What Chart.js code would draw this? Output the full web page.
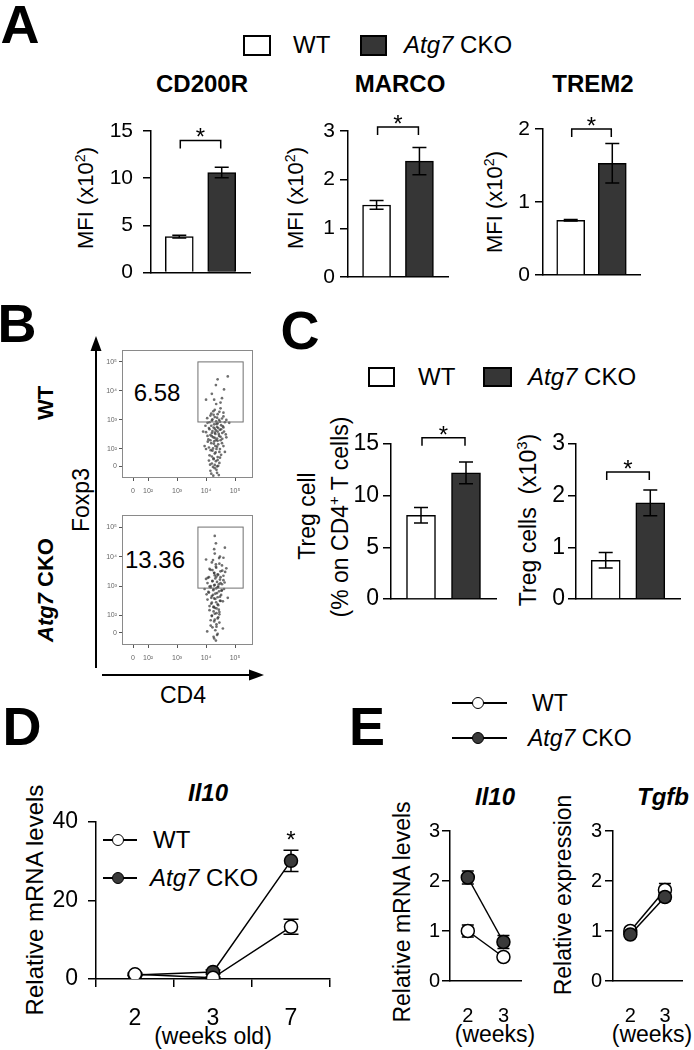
<!DOCTYPE html>
<html>
<head>
<meta charset="utf-8">
<script src="https://cdn.jsdelivr.net/npm/chart.js@4"></script>
<style>
body { margin: 0; background: #fff; }
#fig { position: relative; width: 694px; height: 1050px; overflow: hidden; background: #fff;
       font-family: "Liberation Sans", Arial, sans-serif; color: #000; }
canvas { position: absolute; }
.t { position: absolute; white-space: nowrap; line-height: 1; transform: translate(-50%, -50%); }
.l { position: absolute; white-space: nowrap; line-height: 1; transform: translateY(-50%); }
.rot { transform: translate(-50%, -50%) rotate(-90deg); }
.ttl { font-weight: bold; font-size: 24px; }
.letter { font-weight: bold; font-size: 54px; }
.box { position: absolute; border: 2px solid #000; }
.ln { position: absolute; height: 1.5px; background: #000; }
.mk { position: absolute; width: 10px; height: 10px; border: 1.5px solid #000; border-radius: 50%;
      transform: translate(-50%, -50%); }
sup { font-size: 65%; vertical-align: 0.55em; line-height: 0; }
</style>
</head>
<body>
<div id="fig">
  <!-- panel letters -->
  <div class="t letter" style="left:20px;top:24px">A</div>
  <div class="t letter" style="left:17px;top:323px">B</div>
  <div class="t letter" style="left:300px;top:330px">C</div>
  <div class="t letter" style="left:22px;top:726px">D</div>
  <div class="t letter" style="left:367px;top:726px">E</div>

  <!-- A legend, titles, axis titles -->
  <div class="box" style="left:243px;top:35px;width:24px;height:17px;background:#fff"></div>
  <div class="l" style="left:293px;top:45px;font-size:24px">WT</div>
  <div class="box" style="left:360px;top:35px;width:23px;height:17px;background:#363636"></div>
  <div class="l" style="left:404px;top:45px;font-size:24px"><i>Atg7</i> CKO</div>
  <div class="t ttl" style="left:202px;top:84px">CD200R</div>
  <div class="t ttl" style="left:400px;top:84px">MARCO</div>
  <div class="t ttl" style="left:593px;top:84px">TREM2</div>
  <div class="t rot" style="left:86px;top:198px;font-size:22px">MFI (x10<sup>2</sup>)</div>
  <div class="t rot" style="left:296px;top:198px;font-size:22px">MFI (x10<sup>2</sup>)</div>
  <div class="t rot" style="left:495px;top:202px;font-size:22px">MFI (x10<sup>2</sup>)</div>

  <!-- B labels -->
  <div class="t rot" style="left:46px;top:403px;font-size:22px;font-weight:bold">WT</div>
  <div class="t rot" style="left:46px;top:590px;font-size:22px;font-weight:bold"><i>Atg7</i> CKO</div>
  <div class="t rot" style="left:81px;top:500px;font-size:23px">Foxp3</div>
  <div class="t" style="left:183px;top:695px;font-size:23px">CD4</div>
  <div class="t" style="left:157px;top:393px;font-size:24px">6.58</div>
  <div class="t" style="left:155px;top:560px;font-size:24px">13.36</div>
  <svg style="position:absolute;left:0;top:0" width="694" height="1050">
    <line x1="96" y1="668" x2="96" y2="346" stroke="#000" stroke-width="2"/>
    <polygon points="96,336 90.5,351 101.5,351" fill="#000"/>
    <line x1="102" y1="675" x2="254" y2="675" stroke="#000" stroke-width="2"/>
    <polygon points="264,675 249,669.5 249,680.5" fill="#000"/>
  </svg>

  <!-- C legend and axis titles -->
  <div class="box" style="left:368px;top:367px;width:23px;height:16px;background:#fff"></div>
  <div class="l" style="left:418px;top:377px;font-size:24px">WT</div>
  <div class="box" style="left:483px;top:367px;width:25px;height:16px;background:#363636"></div>
  <div class="l" style="left:528px;top:377px;font-size:24px"><i>Atg7</i> CKO</div>
  <div class="t rot" style="left:307px;top:516px;font-size:23px">Treg cell</div>
  <div class="t rot" style="left:340px;top:517px;font-size:23px">(% on CD4<sup>+</sup> T cells)</div>
  <div class="t rot" style="left:528px;top:520px;font-size:23px">Treg cells&nbsp; (x10<sup>3</sup>)</div>

  <!-- D title, legend, axis titles -->
  <div class="t" style="left:208px;top:793px;font-size:24px;font-weight:bold;font-style:italic">Il10</div>
  <div class="ln" style="left:103px;top:839px;width:34px"></div>
  <div class="mk" style="left:118px;top:840px;background:#fff"></div>
  <div class="l" style="left:153px;top:840px;font-size:24px">WT</div>
  <div class="ln" style="left:103px;top:877px;width:34px"></div>
  <div class="mk" style="left:118px;top:878px;background:#3a3a3a"></div>
  <div class="l" style="left:150px;top:878px;font-size:24px"><i>Atg7</i> CKO</div>
  <div class="t rot" style="left:35px;top:900px;font-size:24px">Relative mRNA levels</div>
  <div class="t" style="left:213px;top:1036px;font-size:23px">(weeks old)</div>

  <!-- E legend, titles, axis titles -->
  <div class="ln" style="left:452px;top:702px;width:55px"></div>
  <div class="mk" style="left:478px;top:703px;background:#fff"></div>
  <div class="l" style="left:532px;top:703px;font-size:23px">WT</div>
  <div class="ln" style="left:452px;top:737px;width:55px"></div>
  <div class="mk" style="left:478px;top:738px;background:#3a3a3a"></div>
  <div class="l" style="left:528px;top:738px;font-size:23px"><i>Atg7</i> CKO</div>
  <div class="t" style="left:495px;top:797px;font-size:24px;font-weight:bold;font-style:italic">Il10</div>
  <div class="t" style="left:663px;top:797px;font-size:24px;font-weight:bold;font-style:italic">Tgfb</div>
  <div class="t rot" style="left:402px;top:912px;font-size:23px">Relative mRNA levels</div>
  <div class="t rot" style="left:563px;top:895px;font-size:23px">Relative expression</div>
  <div class="t" style="left:495px;top:1034px;font-size:23px">(weeks)</div>
  <div class="t" style="left:652px;top:1034px;font-size:23px">(weeks)</div>

  <canvas id="cd200r"></canvas>
  <canvas id="marco"></canvas>
  <canvas id="trem2"></canvas>
  <canvas id="facsWt"></canvas>
  <canvas id="facsCko"></canvas>
  <canvas id="tregPct"></canvas>
  <canvas id="tregNum"></canvas>
  <canvas id="il10Time"></canvas>
  <canvas id="il10Early"></canvas>
  <canvas id="tgfbEarly"></canvas>
</div>

<script>
// Groups (bar order: WT, Atg7 CKO)
const groups = ['WT', 'Atg7 CKO'];

// Panel A - MFI (x10^2)
const cd200rMean = [3.8, 10.6];
const cd200rSem = [0.15, 0.55];
const marcoMean = [1.48, 2.38];
const marcoSem = [0.09, 0.28];
const trem2Mean = [0.75, 1.53];
const trem2Sem = [0.01, 0.27];
const bracketA = [14.0, 3.08, 2.0];

// Panel C - Treg cells
const tregPctMean = [8.1, 12.2];
const tregPctSem = [0.75, 1.05];
const tregNumMean = [0.75, 1.86];
const tregNumSem = [0.15, 0.25];
const bracketC = [15.6, 2.46];

// Panel D - Il10 over time
const dWeeks = ['2', '3', '7'];
const dWtMean = [1.2, 0.3, 13.3];
const dWtSem = [0.3, 0.2, 1.9];
const dCkoMean = [1.0, 1.8, 30.1];
const dCkoSem = [0.2, 0.5, 2.7];
const dStars = [null, null, 37];

// Panel E - early weeks
const eWeeks = ['2', '3'];
const il10WtMean = [1.0, 0.48];
const il10WtSem = [0.12, 0.05];
const il10CkoMean = [2.07, 0.78];
const il10CkoSem = [0.13, 0.13];
const tgfbWtMean = [1.0, 1.82];
const tgfbWtSem = [0.07, 0.13];
const tgfbCkoMean = [0.93, 1.68];
const tgfbCkoSem = [0.05, 0.08];

// Panel B - flow cytometry, axes in display decades
const facsTickLabels = ['0', '10²', '10³', '10⁴', '10⁵'];
const cd4TickPos = [1.48, 2, 3, 4, 5];
const foxp3TickPos = [1.41, 2, 3, 4, 5];
const facsGate = [3.72, 5.28, 2.93, 5.0];
const wtCd4 = [4.35,4.5,4.25,4.6,4.4,4.15,4.3,4.55,4.45,4.2,4.35,4.65,4.05,4.4,4.28,4.52,4.18,4.38,4.6,4.1,
  4.3,4.48,4.22,4.4,4.0,4.56,4.32,4.15,4.45,4.25,4.38,4.08,4.5,4.28,4.18,4.42,4.32,4.1,4.36,4.22,
  4.46,4.3,4.12,4.4,4.26,4.34,4.2,4.42,4.3,4.15,4.38,4.25,4.4,4.75,4.2,4.55,4.0,3.9,4.8,4.7,3.95,4.65,
  4.22,4.48,4.36,4.12,4.58,4.26,4.44,4.34,4.05,4.62,4.2,4.5,4.3,4.15,4.4,4.27,4.55,4.06,4.38,4.24,
  4.48,4.16,4.33,4.52,4.2,4.4,4.1,4.3,4.46,4.24,4.36,4.18,4.44,4.3,4.46,4.18,4.6,4.04,4.38,4.26,
  4.7,4.52,4.68,3.98,4.12,4.42,4.3,4.56,4.2,4.34,4.0,4.6,4.26,4.48,4.14,4.38,4.5,4.28,4.62,4.34];
const wtFoxp3 = [3.55,3.4,3.3,3.25,3.2,3.15,3.1,3.05,3.0,2.98,2.95,2.92,2.9,2.88,2.85,2.82,2.8,2.76,2.74,2.72,
  2.7,2.66,2.62,2.6,2.58,2.55,2.52,2.48,2.45,2.4,2.36,2.33,2.3,2.26,2.2,2.16,2.1,2.05,2.0,1.94,
  1.9,1.84,1.78,1.72,1.65,1.58,1.5,1.42,1.34,1.25,1.18,1.08,4.4,4.5,3.9,3.75,3.7,2.6,2.9,2.4,2.1,1.9,
  3.02,2.94,2.86,2.68,2.78,2.74,2.52,2.64,2.45,2.6,2.55,2.42,2.38,2.3,2.28,2.18,2.2,2.25,2.08,2.02,
  2.0,1.96,1.88,1.8,1.74,1.62,1.6,1.45,1.52,1.38,1.28,1.15,1.1,3.35,3.28,3.22,3.12,3.06,3.08,3.18,
  3.0,2.68,2.5,2.8,2.92,2.72,2.56,2.35,2.44,2.3,2.0,2.1,1.68,1.7,1.46,1.4,3.6,3.7,4.05,4.2];
const ckoCd4 = [4.3,4.45,4.2,4.55,4.35,4.15,4.5,4.28,4.4,4.6,4.1,4.32,4.48,4.22,4.38,4.05,4.55,4.28,4.42,4.16,
  4.35,4.62,4.25,4.45,4.1,4.32,4.52,4.2,4.4,4.28,4.05,4.48,4.35,4.18,4.42,4.26,4.36,4.12,4.46,4.3,
  4.2,4.4,4.28,4.36,4.22,4.32,4.4,4.26,4.34,4.3,4.0,4.7,3.95,4.75,4.65,
  4.24,4.46,4.34,4.12,4.56,4.28,4.42,4.36,4.06,4.6,4.22,4.5,4.3,4.16,4.4,4.26,4.54,4.08,4.38,4.24,
  4.48,4.18,4.32,4.5,4.2,4.4,4.12,4.3,4.44,4.26,4.36,4.2,4.42,4.3,4.46,4.16,4.58,4.04,4.38,4.28,
  4.66,4.5,4.64,4.0,4.12,4.44,4.3,4.54,4.22,4.34,4.02,4.58,4.26,4.46,4.16,4.36,4.48,4.28,4.6,4.34];
const ckoFoxp3 = [4.1,3.95,3.8,3.7,3.62,3.55,3.5,3.45,3.4,3.35,3.3,3.26,3.22,3.18,3.14,3.1,3.06,3.02,2.98,2.95,
  2.92,2.9,2.86,2.82,2.78,2.74,2.7,2.66,2.62,2.58,2.54,2.5,2.45,2.4,2.35,2.3,2.24,2.18,2.12,2.06,
  1.98,1.9,1.8,1.7,1.6,1.5,1.38,1.28,1.15,4.7,3.9,3.6,2.9,2.6,4.3,
  3.88,3.76,3.66,3.58,3.52,3.44,3.38,3.32,3.28,3.2,3.16,3.1,3.04,3.0,2.96,2.9,2.84,2.8,2.76,2.7,
  2.64,2.6,2.56,2.5,2.44,2.38,2.32,2.26,2.2,2.14,2.08,2.0,1.94,1.86,1.76,1.66,1.56,1.46,1.34,1.22,
  3.48,3.3,3.12,3.24,2.98,3.06,3.36,2.86,3.54,3.74,2.72,2.48,2.28,2.04,1.84,1.62,4.0,4.25,3.96,4.45];

const FONT = '"Liberation Sans", Arial, sans-serif';
Chart.defaults.font.family = FONT;
Chart.defaults.color = '#000';
Chart.defaults.animation = false;
Chart.defaults.responsive = false;
Chart.defaults.plugins.legend.display = false;
Chart.defaults.plugins.tooltip.enabled = false;

// error bars (behind markers for lines, on top for bars)
function drawErrors(chart, cap) {
    const ctx = chart.ctx, ys = chart.scales.y;
    ctx.save();
    ctx.strokeStyle = '#000';
    ctx.lineWidth = 1.5;
    chart.data.datasets.forEach((ds, i) => {
        if (!ds.errors) return;
        chart.getDatasetMeta(i).data.forEach((el, j) => {
            const raw = ds.data[j];
            const v = typeof raw === 'object' ? raw.y : raw;
            const e = ds.errors[j];
            const top = ys.getPixelForValue(v + e), bot = ys.getPixelForValue(v - e);
            ctx.beginPath();
            ctx.moveTo(el.x, top); ctx.lineTo(el.x, bot);
            ctx.moveTo(el.x - cap, top); ctx.lineTo(el.x + cap, top);
            ctx.moveTo(el.x - cap, bot); ctx.lineTo(el.x + cap, bot);
            ctx.stroke();
        });
    });
    ctx.restore();
}
const errorBars = {
    id: 'errorBars',
    beforeDatasetsDraw(chart, args, opts) { if (!opts.front) drawErrors(chart, opts.cap || 7); },
    afterDatasetsDraw(chart, args, opts) { if (opts.front) drawErrors(chart, opts.cap || 7); }
};

// significance bracket and stars
const sigMarks = {
    id: 'sigMarks',
    afterDraw(chart, args, opts) {
        const ctx = chart.ctx, ys = chart.scales.y;
        ctx.save();
        ctx.strokeStyle = '#000';
        ctx.fillStyle = '#000';
        ctx.lineWidth = 1.5;
        ctx.font = '24px ' + FONT;
        ctx.textAlign = 'center';
        ctx.textBaseline = 'alphabetic';
        if (opts.bracket != null) {
            const bars = chart.getDatasetMeta(0).data;
            const x0 = bars[0].x + 1, x1 = bars[1].x - 1;
            const py = ys.getPixelForValue(opts.bracket);
            ctx.beginPath();
            ctx.moveTo(x0, py + 8); ctx.lineTo(x0, py); ctx.lineTo(x1, py); ctx.lineTo(x1, py + 8);
            ctx.stroke();
            ctx.fillText('*', (x0 + x1) / 2, py + 5);
        }
        (opts.stars || []).forEach((v, i) => {
            if (v == null) return;
            const x = chart.getDatasetMeta(0).data[i].x;
            ctx.fillText('*', x, ys.getPixelForValue(v) + 14);
        });
        ctx.restore();
    }
};

// frame + gate of the dot plots
const facsFrame = {
    id: 'facsFrame',
    afterDatasetsDraw(chart, args, opts) {
        const {ctx, chartArea: a, scales: {x, y}} = chart;
        ctx.save();
        ctx.strokeStyle = '#8a8a8a';
        ctx.lineWidth = 1;
        ctx.strokeRect(a.left + 0.5, a.top + 0.5, a.width - 1, a.height - 1);
        const g = opts.gate;
        const gx0 = x.getPixelForValue(g[0]), gx1 = x.getPixelForValue(g[1]);
        const gy0 = y.getPixelForValue(g[3]), gy1 = y.getPixelForValue(g[2]);
        ctx.strokeStyle = '#707070';
        ctx.strokeRect(gx0, gy0, gx1 - gx0, gy1 - gy0);
        ctx.restore();
    }
};

// put a canvas so that its chart area lands on [l, t, r, b]
function place(id, area, m) {
    const c = document.getElementById(id);
    const w = area[2] - area[0] + m.l + m.r;
    const h = area[3] - area[1] + m.t + m.b;
    c.width = w; c.height = h;
    c.style.left = (area[0] - m.l) + 'px';
    c.style.top = (area[1] - m.t) + 'px';
    c.style.width = w + 'px';
    c.style.height = h + 'px';
    return c;
}

function yAxis(m, max, step, size, pad) {
    return {
        min: 0, max: max,
        ticks: {stepSize: step, font: {size: size}, padding: pad, color: '#000'},
        grid: {drawOnChartArea: false, tickLength: 8, color: '#000', lineWidth: 1.5},
        border: {color: '#000', width: 1.5},
        afterFit: s => { s.width = m.l; }
    };
}

function barChart(id, area, mean, sem, max, step, size, pad, bracket, width) {
    const m = {l: 50, r: 6, t: 30, b: 18};
    const c = place(id, area, m);
    return new Chart(c, {
        type: 'bar',
        data: {
            datasets: [{
                label: groups.join(' / '),
                data: mean.map((v, i) => ({x: i + 1, y: v})),
                errors: sem,
                backgroundColor: ['#ffffff', '#363636'],
                borderColor: '#000',
                borderWidth: 1.5,
                barThickness: width
            }]
        },
        options: {
            layout: {autoPadding: false, padding: {top: m.t, right: m.r, left: 0, bottom: 0}},
            scales: {
                x: {
                    type: 'linear', min: 1 / 3, max: 8 / 3, offset: false,
                    ticks: {display: false},
                    grid: {display: false},
                    border: {color: '#000', width: 1.5},
                    afterFit: s => { s.height = m.b; }
                },
                y: yAxis(m, max, step, size, pad)
            },
            plugins: {
                errorBars: {front: true, cap: 7},
                sigMarks: {bracket: bracket}
            }
        },
        plugins: [errorBars, sigMarks]
    });
}

function lineChart(id, area, m, labels, wt, wtErr, cko, ckoErr, opt) {
    const c = place(id, area, m);
    const marker = (fill, err, vals, order) => ({
        data: vals, errors: err, order: order,
        borderColor: '#000', borderWidth: 1.5,
        pointRadius: 6.5, pointBorderWidth: 1.5,
        pointBorderColor: '#000', pointBackgroundColor: fill
    });
    return new Chart(c, {
        type: 'line',
        data: {
            labels: labels,
            datasets: [
                Object.assign({label: 'WT'}, marker('#ffffff', wtErr, wt, opt.wtOrder)),
                Object.assign({label: 'Atg7 CKO'}, marker('#3a3a3a', ckoErr, cko, opt.ckoOrder))
            ]
        },
        options: {
            layout: {autoPadding: false, padding: {top: m.t, right: m.r, left: 0, bottom: 0}},
            scales: {
                x: {
                    offset: true,
                    grid: opt.xTicks
                        ? {offset: true, drawOnChartArea: false, tickLength: 8, color: '#000', lineWidth: 1.5}
                        : {display: false, drawTicks: false},
                    border: {color: '#000', width: 1.5},
                    ticks: {font: {size: opt.size}, padding: opt.xPad, color: '#000',
                            maxRotation: 0, minRotation: 0, autoSkip: false},
                    afterFit: s => { s.height = m.b; }
                },
                y: yAxis(m, opt.max, opt.step, opt.size, opt.yPad)
            },
            plugins: {
                errorBars: {front: false, cap: opt.cap},
                sigMarks: {stars: opt.stars}
            }
        },
        plugins: [errorBars, sigMarks]
    });
}

function facsChart(id, area, cd4, foxp3) {
    const m = {l: 22, r: 8, t: 8, b: 22};
    const c = place(id, area, m);
    const tickStyle = {font: {size: 7}, color: '#666', autoSkip: false, maxRotation: 0,
                       callback: (v, i) => facsTickLabels[i]};
    return new Chart(c, {
        type: 'scatter',
        data: {
            datasets: [{
                label: 'CD4 vs Foxp3',
                data: cd4.map((v, i) => ({x: v, y: foxp3[i]})),
                pointRadius: 1.35,
                pointBorderWidth: 0,
                pointBackgroundColor: 'rgba(50,50,50,0.7)'
            }]
        },
        options: {
            layout: {autoPadding: false, padding: {top: m.t, right: m.r, left: 0, bottom: 0}},
            scales: {
                x: {
                    type: 'linear', min: 1.10, max: 5.62,
                    afterBuildTicks: s => { s.ticks = cd4TickPos.map(v => ({value: v})); },
                    ticks: Object.assign({padding: 6}, tickStyle),
                    grid: {drawOnChartArea: false, tickLength: 3, color: '#555'},
                    border: {display: false},
                    afterFit: s => { s.height = m.b; }
                },
                y: {
                    type: 'linear', min: 1.0, max: 5.41,
                    afterBuildTicks: s => { s.ticks = foxp3TickPos.map(v => ({value: v})); },
                    ticks: Object.assign({padding: 2}, tickStyle),
                    grid: {drawOnChartArea: false, tickLength: 3, color: '#555'},
                    border: {display: false},
                    afterFit: s => { s.width = m.l; }
                }
            },
            plugins: {facsFrame: {gate: facsGate}}
        },
        plugins: [facsFrame]
    });
}

// Panel A
barChart('cd200r', [151, 131, 250, 277], cd200rMean, cd200rSem, 15, 5, 21, 10, bracketA[0], 28);
barChart('marco', [348, 131, 448, 277], marcoMean, marcoSem, 3, 1, 21, 5, bracketA[1], 28);
barChart('trem2', [543, 129, 640, 275], trem2Mean, trem2Sem, 2, 1, 21, 5, bracketA[2], 28);

// Panel B
facsChart('facsWt', [122, 350, 253, 478], wtCd4, wtFoxp3);
facsChart('facsCko', [122, 515, 253, 645], ckoCd4, ckoFoxp3);

// Panel C
barChart('tregPct', [391, 444, 496, 599], tregPctMean, tregPctSem, 15, 5, 23, 4, bracketC[0], 29);
barChart('tregNum', [576, 444, 680, 599], tregNumMean, tregNumSem, 3, 1, 23, 3, bracketC[1], 29);

// Panel D
lineChart('il10Time', [96, 822, 330, 979], {l: 50, r: 6, t: 30, b: 56},
    dWeeks, dWtMean, dWtSem, dCkoMean, dCkoSem,
    {max: 40, step: 20, size: 23, yPad: 10, xPad: 18, xTicks: true, cap: 7.5,
     stars: dStars, wtOrder: 0, ckoOrder: 1});

// Panel E
lineChart('il10Early', [450, 831, 529, 981], {l: 40, r: 4, t: 30, b: 50},
    eWeeks, il10WtMean, il10WtSem, il10CkoMean, il10CkoSem,
    {max: 3, step: 1, size: 20, yPad: 2, xPad: 23, xTicks: false, cap: 6, wtOrder: 1, ckoOrder: 0});
lineChart('tgfbEarly', [613, 831, 692, 981], {l: 40, r: 2, t: 30, b: 50},
    eWeeks, tgfbWtMean, tgfbWtSem, tgfbCkoMean, tgfbCkoSem,
    {max: 3, step: 1, size: 20, yPad: 3, xPad: 23, xTicks: false, cap: 6, wtOrder: 1, ckoOrder: 0});
</script>
</body>
</html>
